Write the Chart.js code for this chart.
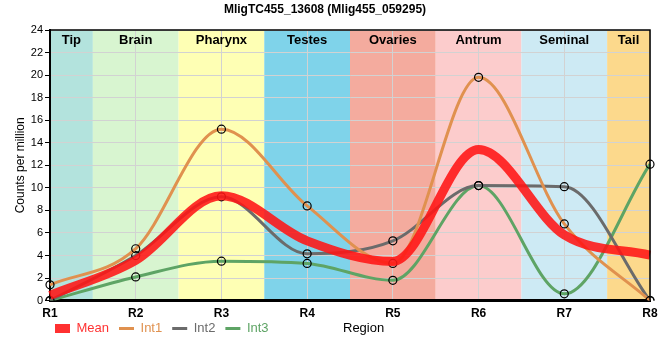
<!DOCTYPE html>
<html>
<head>
<meta charset="utf-8">
<script src="https://cdn.jsdelivr.net/npm/chart.js@4.4.1/dist/chart.umd.min.js"></script>
<style>
  html, body { margin: 0; padding: 0; background: #fff; }
  #wrap { width: 660px; height: 360px; }
</style>
</head>
<body>
<div id="wrap"><canvas id="exprChart"></canvas></div>
<script>
// Données
const regions = ['R1', 'R2', 'R3', 'R4', 'R5', 'R6', 'R7', 'R8'];
const bandNames = ['Tip', 'Brain', 'Pharynx', 'Testes', 'Ovaries', 'Antrum', 'Seminal', 'Tail'];
const bandColors = ['#b3e3dd', '#d8f5d0', '#feffb4', '#7fd3ea', '#f4ab9e', '#fccccc', '#cdeaf4', '#fcd98c'];
const meanValues = [0.47, 3.57, 9.3, 5.3, 3.47, 13.4, 5.83, 4.03];
const int1Values = [1.4, 4.6, 15.2, 8.4, 3.3, 19.8, 6.8, 0];
const int2Values = [0, 4.0, 9.2, 4.15, 5.3, 10.2, 10.1, 0];
const int3Values = [0, 2.1, 3.5, 3.3, 1.8, 10.2, 0.6, 12.1];
const yTicks = [0, 2, 4, 6, 8, 10, 12, 14, 16, 18, 20, 22, 24];

const FONT = '"Liberation Sans", Arial, sans-serif';

// Bandes de couleur derrière les courbes + libellés en haut
const bandsPlugin = {
    id: 'bands',
    beforeDraw(chart) {
        const { ctx, chartArea: a, scales: { x } } = chart;
        ctx.save();
        bandNames.forEach((name, i) => {
            const x0 = Math.max(a.left, x.getPixelForValue(i - 0.5));
            const x1 = Math.min(a.right, x.getPixelForValue(i + 0.5));
            ctx.fillStyle = bandColors[i];
            ctx.fillRect(x0, a.top, x1 - x0, a.bottom - a.top);
        });
        ctx.restore();
    },
    afterDatasetsDraw(chart) {
        const { ctx, chartArea: a, scales: { x } } = chart;
        ctx.save();
        ctx.font = 'bold 13px ' + FONT;
        ctx.fillStyle = '#000';
        ctx.textAlign = 'center';
        ctx.textBaseline = 'middle';
        bandNames.forEach((name, i) => {
            const x0 = Math.max(a.left, x.getPixelForValue(i - 0.5));
            const x1 = Math.min(a.right, x.getPixelForValue(i + 0.5));
            ctx.fillText(name, (x0 + x1) / 2, a.top + 10);
        });
        // cadre haut et droite
        ctx.strokeStyle = '#000';
        ctx.lineWidth = 1.5;
        ctx.beginPath();
        ctx.moveTo(a.left, a.top);
        ctx.lineTo(a.right, a.top);
        ctx.lineTo(a.right, a.bottom);
        ctx.stroke();
        ctx.restore();
    },
    afterLayout(chart) {
        // légende décalée, sur la même ligne que le titre "Region"
        const lg = chart.legend;
        lg.left = 45;
        lg.top -= 15;
        lg.bottom -= 15;
    },
    afterDraw(chart) {
        const { ctx } = chart;
        ctx.save();
        ctx.font = '13px ' + FONT;
        ctx.fillStyle = '#000';
        ctx.textAlign = 'left';
        ctx.textBaseline = 'middle';
        ctx.fillText('Region', 343, 328);
        ctx.restore();
    }
};

function line(label, data, color, width, points) {
    return {
        label: label,
        data: data,
        borderColor: color,
        backgroundColor: color,
        borderWidth: width,
        cubicInterpolationMode: 'monotone',
        pointRadius: points ? 4 : 0,
        pointHoverRadius: points ? 4 : 0,
        pointBackgroundColor: 'rgba(0,0,0,0)',
        pointBorderColor: '#000',
        pointBorderWidth: 1.2,
        fill: false
    };
}

new Chart(document.getElementById('exprChart'), {
    type: 'line',
    data: {
        labels: regions,
        datasets: [
            line('Mean', meanValues, 'rgba(255,20,20,0.88)', 9, false),
            line('Int1', int1Values, '#e0914f', 3, true),
            line('Int2', int2Values, '#6b6b6b', 3, true),
            line('Int3', int3Values, '#5ea465', 3, true)
        ]
    },
    options: {
        responsive: true,
        maintainAspectRatio: false,
        animation: false,
        layout: { padding: { left: 0, right: 10, top: 0, bottom: 0 } },
        scales: {
            x: {
                afterFit: scale => { scale.paddingRight = 0; scale.paddingLeft = 0; },
                grid: { color: '#d2d2d2', drawTicks: false },
                border: { color: '#000', width: 3 },
                ticks: { color: '#000', padding: 6, font: { family: FONT, size: 12, weight: 'bold' } }
            },
            y: {
                min: 0,
                max: 24,
                afterBuildTicks: scale => { scale.ticks = yTicks.map(v => ({ value: v })); },
                afterFit: scale => { scale.width = 50; },
                grid: { color: '#d2d2d2', tickColor: '#000', tickLength: 5 },
                border: { color: '#000', width: 2 },
                ticks: { color: '#000', padding: 2, font: { family: FONT, size: 11 } },
                title: {
                    display: true,
                    text: 'Counts per million',
                    color: '#000',
                    padding: { top: 13, bottom: 0 },
                    font: { family: FONT, size: 12 }
                }
            }
        },
        plugins: {
            title: {
                display: true,
                text: 'MligTC455_13608 (Mlig455_059295)',
                color: '#000',
                padding: { top: 2, bottom: 13.6 },
                font: { family: FONT, size: 12, weight: 'bold' }
            },
            legend: {
                position: 'bottom',
                align: 'start',
                labels: {
                    usePointStyle: true,
                    pointStyle: 'line',
                    pointStyleWidth: 15,
                    boxHeight: 13,
                    padding: 10,
                    font: { family: FONT, size: 13 },
                    generateLabels: chart => {
                        const items = Chart.defaults.plugins.legend.labels.generateLabels(chart);
                        items.forEach(it => {
                            const ds = chart.data.datasets[it.datasetIndex];
                            it.strokeStyle = ds.borderColor;
                            it.fontColor = ds.borderColor;
                            it.lineWidth = ds.borderWidth;
                            it.lineCap = 'butt';
                        });
                        return items;
                    }
                }
            },
            tooltip: { enabled: false }
        }
    },
    plugins: [bandsPlugin]
});
</script>
</body>
</html>
